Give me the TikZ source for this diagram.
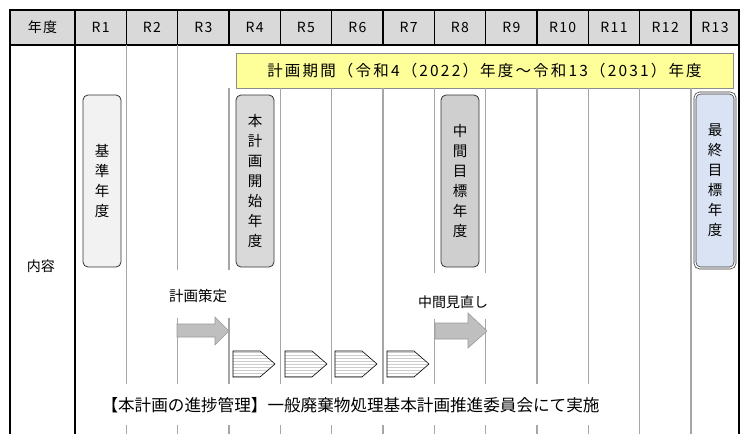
\documentclass[tikz,border=0pt]{standalone}
\usepackage{fontspec}
\setmainfont{Noto Sans CJK JP}
\usetikzlibrary{positioning}
\usetikzlibrary{patterns}
\definecolor{hdrgray}{HTML}{D9D9D9}
\definecolor{gridgray}{HTML}{A6A6A6}
\definecolor{bannery}{HTML}{FFFF99}
\definecolor{basefill}{HTML}{F2F2F2}
\definecolor{startfill}{HTML}{D9D9D9}
\definecolor{midfill}{HTML}{CFCFCF}
\definecolor{finalfill}{HTML}{DAE3F3}
\definecolor{arrowfill}{HTML}{BFBFBF}
\tikzset{hdrcell/.style={rectangle,draw=black,fill=hdrgray,line width=1.5pt,
outer sep=0pt,inner sep=0pt,minimum height=35pt,minimum width=51.33pt,
font=\fontsize{14}{16}\selectfont\addfontfeatures{LetterSpace=10}}}
\tikzset{yearbox/.style={rectangle,rounded corners=5pt,draw=black!80,line width=0.8pt,
inner sep=0pt,minimum width=38pt,minimum height=172pt,align=center,
font=\fontsize{14.5}{20}\selectfont}}
\tikzset{notetxt/.style={rectangle,fill=white,inner ysep=0pt,inner xsep=5pt,anchor=base}}
\tikzset{gridline/.style={draw=gridgray,line width=1.4pt}}
\tikzset{bigarrow/.style={draw=gray!80,fill=arrowfill,line width=0.6pt}}
\tikzset{stepsig/.style={draw=black,line width=0.6pt,preaction={fill=white},
pattern=horizontal lines,pattern color=gray!40}}

\begin{document}
\begin{tikzpicture}[x=1pt,y=-1pt]
    \useasboundingbox (0,0) rectangle (749,434);
    \coordinate (bot) at (0,434);

    % header row
    \node[hdrcell,minimum width=65pt] (hdr0) at (42.5,27.5) {年度};
    \foreach \i [count=\j from 0] in {1,...,12}
        \node[hdrcell] (hdr\i) [right=0pt of hdr\j] {R\i};
    \node[hdrcell,minimum width=48pt] (hdr13) [right=0pt of hdr12] {R13};

    % plan period
    \node[rectangle,draw=gray!90,fill=bannery,line width=0.8pt,minimum width=497pt,
        minimum height=35pt,font=\fontsize{15.5}{17}\selectfont\addfontfeatures{LetterSpace=14}]
        (period) at (484.5,70.5)
        {計画期間（令和4（2022）年度～令和13（2031）年度};

    % column lines
    \foreach \i in {1,2}
        \draw[gridline] (hdr\i.south east) -- (hdr\i.south east |- bot);
    \foreach \i in {3,...,12}
        \draw[gridline] (hdr\i.south east |- period.south) -- (hdr\i.south east |- bot);

    \draw[line width=1.5pt] (hdr0.south east) -- (hdr0.south east |- bot);
    \draw[line width=2.5pt] (hdr0.south west |- bot) -- (hdr0.north west)
        -- (hdr13.north east) -- (hdr13.north east |- bot);

    \node[font=\fontsize{14}{16}\selectfont] (rowlbl) at (41,266) {内容};

    % target years
    \node[yearbox,fill=basefill] (baseyr) at (102,181) {基\\準\\年\\度};
    \node[yearbox,fill=startfill] (startyr) at (255,181) {本\\計\\画\\開\\始\\年\\度};
    \node[yearbox,fill=midfill] (midyr) at (460,181) {中\\間\\目\\標\\年\\度};
    \node[yearbox,fill=finalfill,minimum width=40pt,minimum height=175pt,
        double=white,double distance=1.4pt,line width=0.7pt] (finalyr) at (715,180.5)
        {最\\終\\目\\標\\年\\度};

    % steps
    \node[notetxt,text height=31pt,text depth=17pt,inner xsep=6pt,
        font=\fontsize{14.5}{16}\selectfont] (plantxt) at (198,301) {計画策定};
    \node[notetxt,text height=34pt,text depth=12pt,
        font=\fontsize{14}{16}\selectfont] (reviewtxt) at (453,307) {中間見直し};
    \node[notetxt,text height=27pt,text depth=14pt,inner xsep=4pt,
        font=\fontsize{16.6}{18}\selectfont] (mgmttxt) at (350.5,411)
        {【本計画の進捗管理】一般廃棄物処理基本計画推進委員会にて実施};

    \draw[bigarrow] (177,324) -- (215,324) -- (215,317) -- (229,331)
        -- (215,345) -- (215,337) -- (177,337) -- cycle;
    \draw[bigarrow] (435,323) -- (468,323) -- (468,313) -- (487,331)
        -- (468,348) -- (468,339) -- (435,339) -- cycle;

    \foreach \x in {233,285,335,387}
        \draw[stepsig] (\x,351) -- ++(27,0) -- ++(15,13) -- ++(-15,13)
            -- ++(-27,0) -- cycle;

\end{tikzpicture}
\end{document}
